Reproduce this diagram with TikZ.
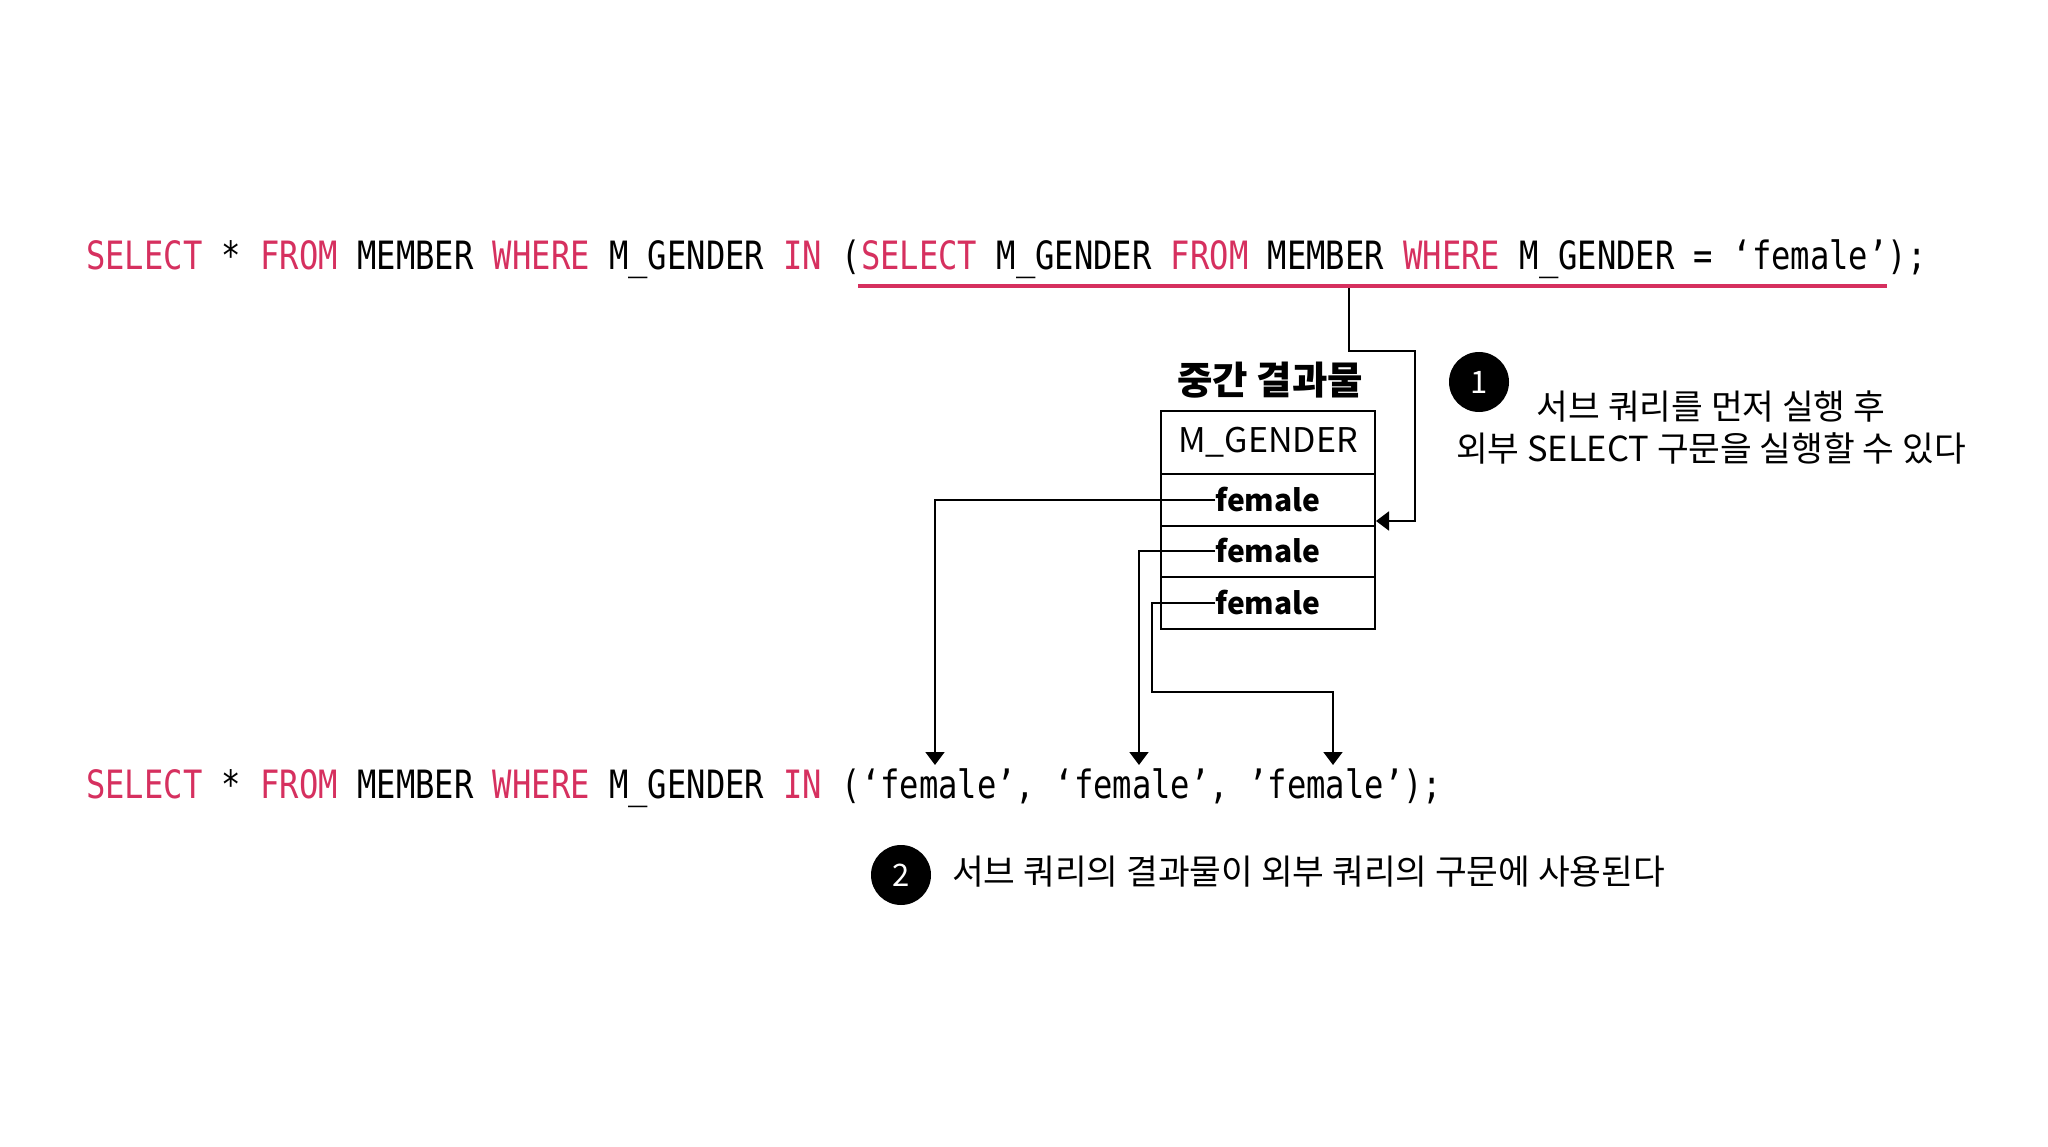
\documentclass[tikz,border=0pt]{standalone}
\usepackage{fontspec}
\usetikzlibrary{arrows.meta}
\newfontfamily\codefont[FakeStretch=0.825]{DejaVu Sans Mono}
\newfontfamily\kr{Noto Sans CJK KR}
\definecolor{kwred}{RGB}{214,48,95}
\newcommand\sqlkw[1]{\textcolor{kwred}{#1}}
\tikzset{
  code/.style={inner sep=0pt, anchor=base west, font=\codefont\fontsize{39}{44}\selectfont},
  cell/.style={draw, line width=2.2pt, minimum width=214pt, inner sep=0pt},
  val/.style={inner sep=0pt, font=\kr\bfseries\fontsize{30}{36}\selectfont},
  conn/.style={line width=1.8pt},
  arr/.style={conn, -{Triangle[length=13pt,width=19pt]}},
  badge/.style={circle, fill=black, minimum size=60pt, inner sep=0pt, text=white, font=\kr\fontsize{31}{34}\selectfont},
  note/.style={inner sep=0pt, font=\kr\fontsize{34.5}{42}\selectfont}
}
\begin{document}
\begin{tikzpicture}[x=1pt,y=-1pt]
\useasboundingbox[fill=white] (0,0) rectangle (2048,1147);
% top query
\node[code] (q1) at (86,270) {\sqlkw{SELECT} * \sqlkw{FROM} MEMBER \sqlkw{WHERE} M\_GENDER \sqlkw{IN} (\sqlkw{SELECT} M\_GENDER \sqlkw{FROM} MEMBER \sqlkw{WHERE} M\_GENDER = ‘female’);};
\coordinate (ul1) at (858,286);
\coordinate (ul2) at (1887,286);
\draw[kwred, line width=3.5pt] (ul1) -- (ul2);
% intermediate result table
\node[font=\kr\bfseries\fontsize{38.5}{42}\selectfont, inner sep=0pt] (title) at (1270,380) {중간 결과물};
\node[cell, minimum height=63pt, font=\kr\fontsize{34}{38}\selectfont] (hdr) at (1268,442.5) {M\_GENDER};
\node[cell, minimum height=52pt] (r1) at (1268,500) {};
\node[cell, minimum height=51pt] (r2) at (1268,551.5) {};
\node[cell, minimum height=52pt] (r3) at (1268,603) {};
\node[val] (f1) at (1268,500) {female};
\node[val] (f2) at (1268,551) {female};
\node[val] (f3) at (1268,603) {female};
% arrow from subquery to table
\coordinate (u) at (1349,288);
\coordinate (k1) at (1415,351);
\coordinate (in1) at (1376,521);
\draw[arr] (u) |- (k1) |- (in1);
% bottom query
\node[code] (q2) at (86,798) {\sqlkw{SELECT} * \sqlkw{FROM} MEMBER \sqlkw{WHERE} M\_GENDER \sqlkw{IN} (‘female’, ‘female’, ’female’);};
\coordinate (t1) at (935,765);
\coordinate (t2) at (1139,765);
\coordinate (t3) at (1333,765);
\coordinate (b3) at (1152,692);
\draw[arr] (f1.west) -| (t1);
\draw[arr] (f2.west) -| (t2);
\draw[arr] (f3.west) -| (b3) -| (t3);
% notes
\node[badge] (n1) at (1479,382) {1};
\node[note, align=center] (m1) at (1711,428) {서브 쿼리를 먼저 실행 후\\외부 SELECT 구문을 실행할 수 있다};
\node[badge] (n2) at (901,875) {2};
\node[note, anchor=west] (m2) at (952,872) {서브 쿼리의 결과물이 외부 쿼리의 구문에 사용된다};
\end{tikzpicture}
\end{document}
